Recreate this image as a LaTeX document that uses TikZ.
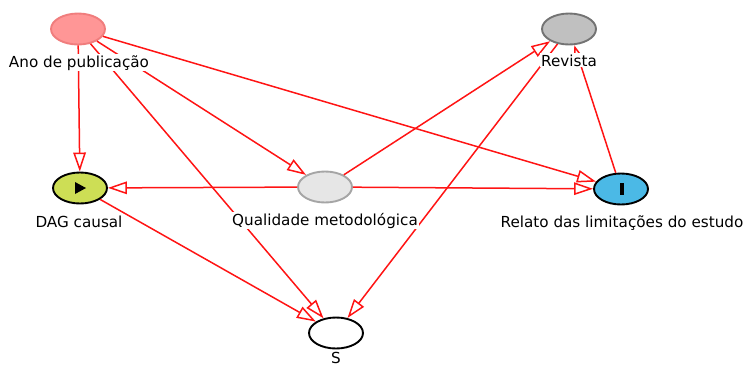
\documentclass[tikz,border=0pt]{standalone}
\usepackage{fontspec}
\setmainfont{DejaVu Sans}
\usetikzlibrary{shapes.geometric,arrows.meta}
\definecolor{edgered}{RGB}{255,20,20}
\definecolor{anofill}{RGB}{255,150,150}
\definecolor{anodraw}{RGB}{240,125,125}
\definecolor{revfill}{RGB}{192,192,192}
\definecolor{revdraw}{RGB}{115,115,115}
\definecolor{dagfill}{RGB}{205,222,85}
\definecolor{qualfill}{RGB}{230,230,230}
\definecolor{qualdraw}{RGB}{165,165,165}
\definecolor{relfill}{RGB}{75,185,230}
\begin{document}
\begin{tikzpicture}[x=1pt,y=-1pt,
  var/.style={ellipse, minimum width=54pt, minimum height=31pt, inner sep=0pt, line width=1.9pt},
  lbl/.style={anchor=base, fill=white, inner sep=1pt, font=\fontsize{15.2}{17}\selectfont},
  edge/.style={draw=edgered, line width=1.5pt, -{Triangle[open, length=19pt, width=12.5pt]}}]
\useasboundingbox (0,0) rectangle (744,367);
\node[var, fill=anofill, draw=anodraw] (ano) at (78,29) {};
\node[var, fill=revfill, draw=revdraw] (rev) at (569,29) {};
\node[var, fill=dagfill, draw=black] (dag) at (80,188) {};
\node[var, fill=qualfill, draw=qualdraw] (qual) at (325,187) {};
\node[var, fill=relfill, draw=black] (rel) at (621,189) {};
\node[var, fill=white, draw=black] (s) at (336,333) {};
\fill[black] (75,182) -- (75,194) -- (86,188) -- cycle;
\fill[black] (619.5,183) rectangle (623.5,195);
\draw[edge] (ano) -- (dag);
\draw[edge] (ano) -- (qual);
\draw[edge] (ano) -- (s);
\draw[edge] (ano) -- (rel);
\draw[edge] (qual) -- (dag);
\draw[edge] (qual) -- (rel);
\draw[edge] (qual) -- (rev);
\draw[edge] (rev) -- (s);
\draw[edge] (rel) -- (rev);
\draw[edge] (dag) -- (s);
\node[lbl] (anol) at (79,67) {Ano de publicação};
\node[lbl] (revl) at (569,66) {Revista};
\node[lbl] (dagl) at (79,227) {DAG causal};
\node[lbl] (quall) at (325,225) {Qualidade metodológica};
\node[lbl] (rell) at (622,227) {Relato das limitações do estudo};
\node[lbl, inner sep=0pt] (sl) at (336,363) {S};
\end{tikzpicture}
\end{document}
